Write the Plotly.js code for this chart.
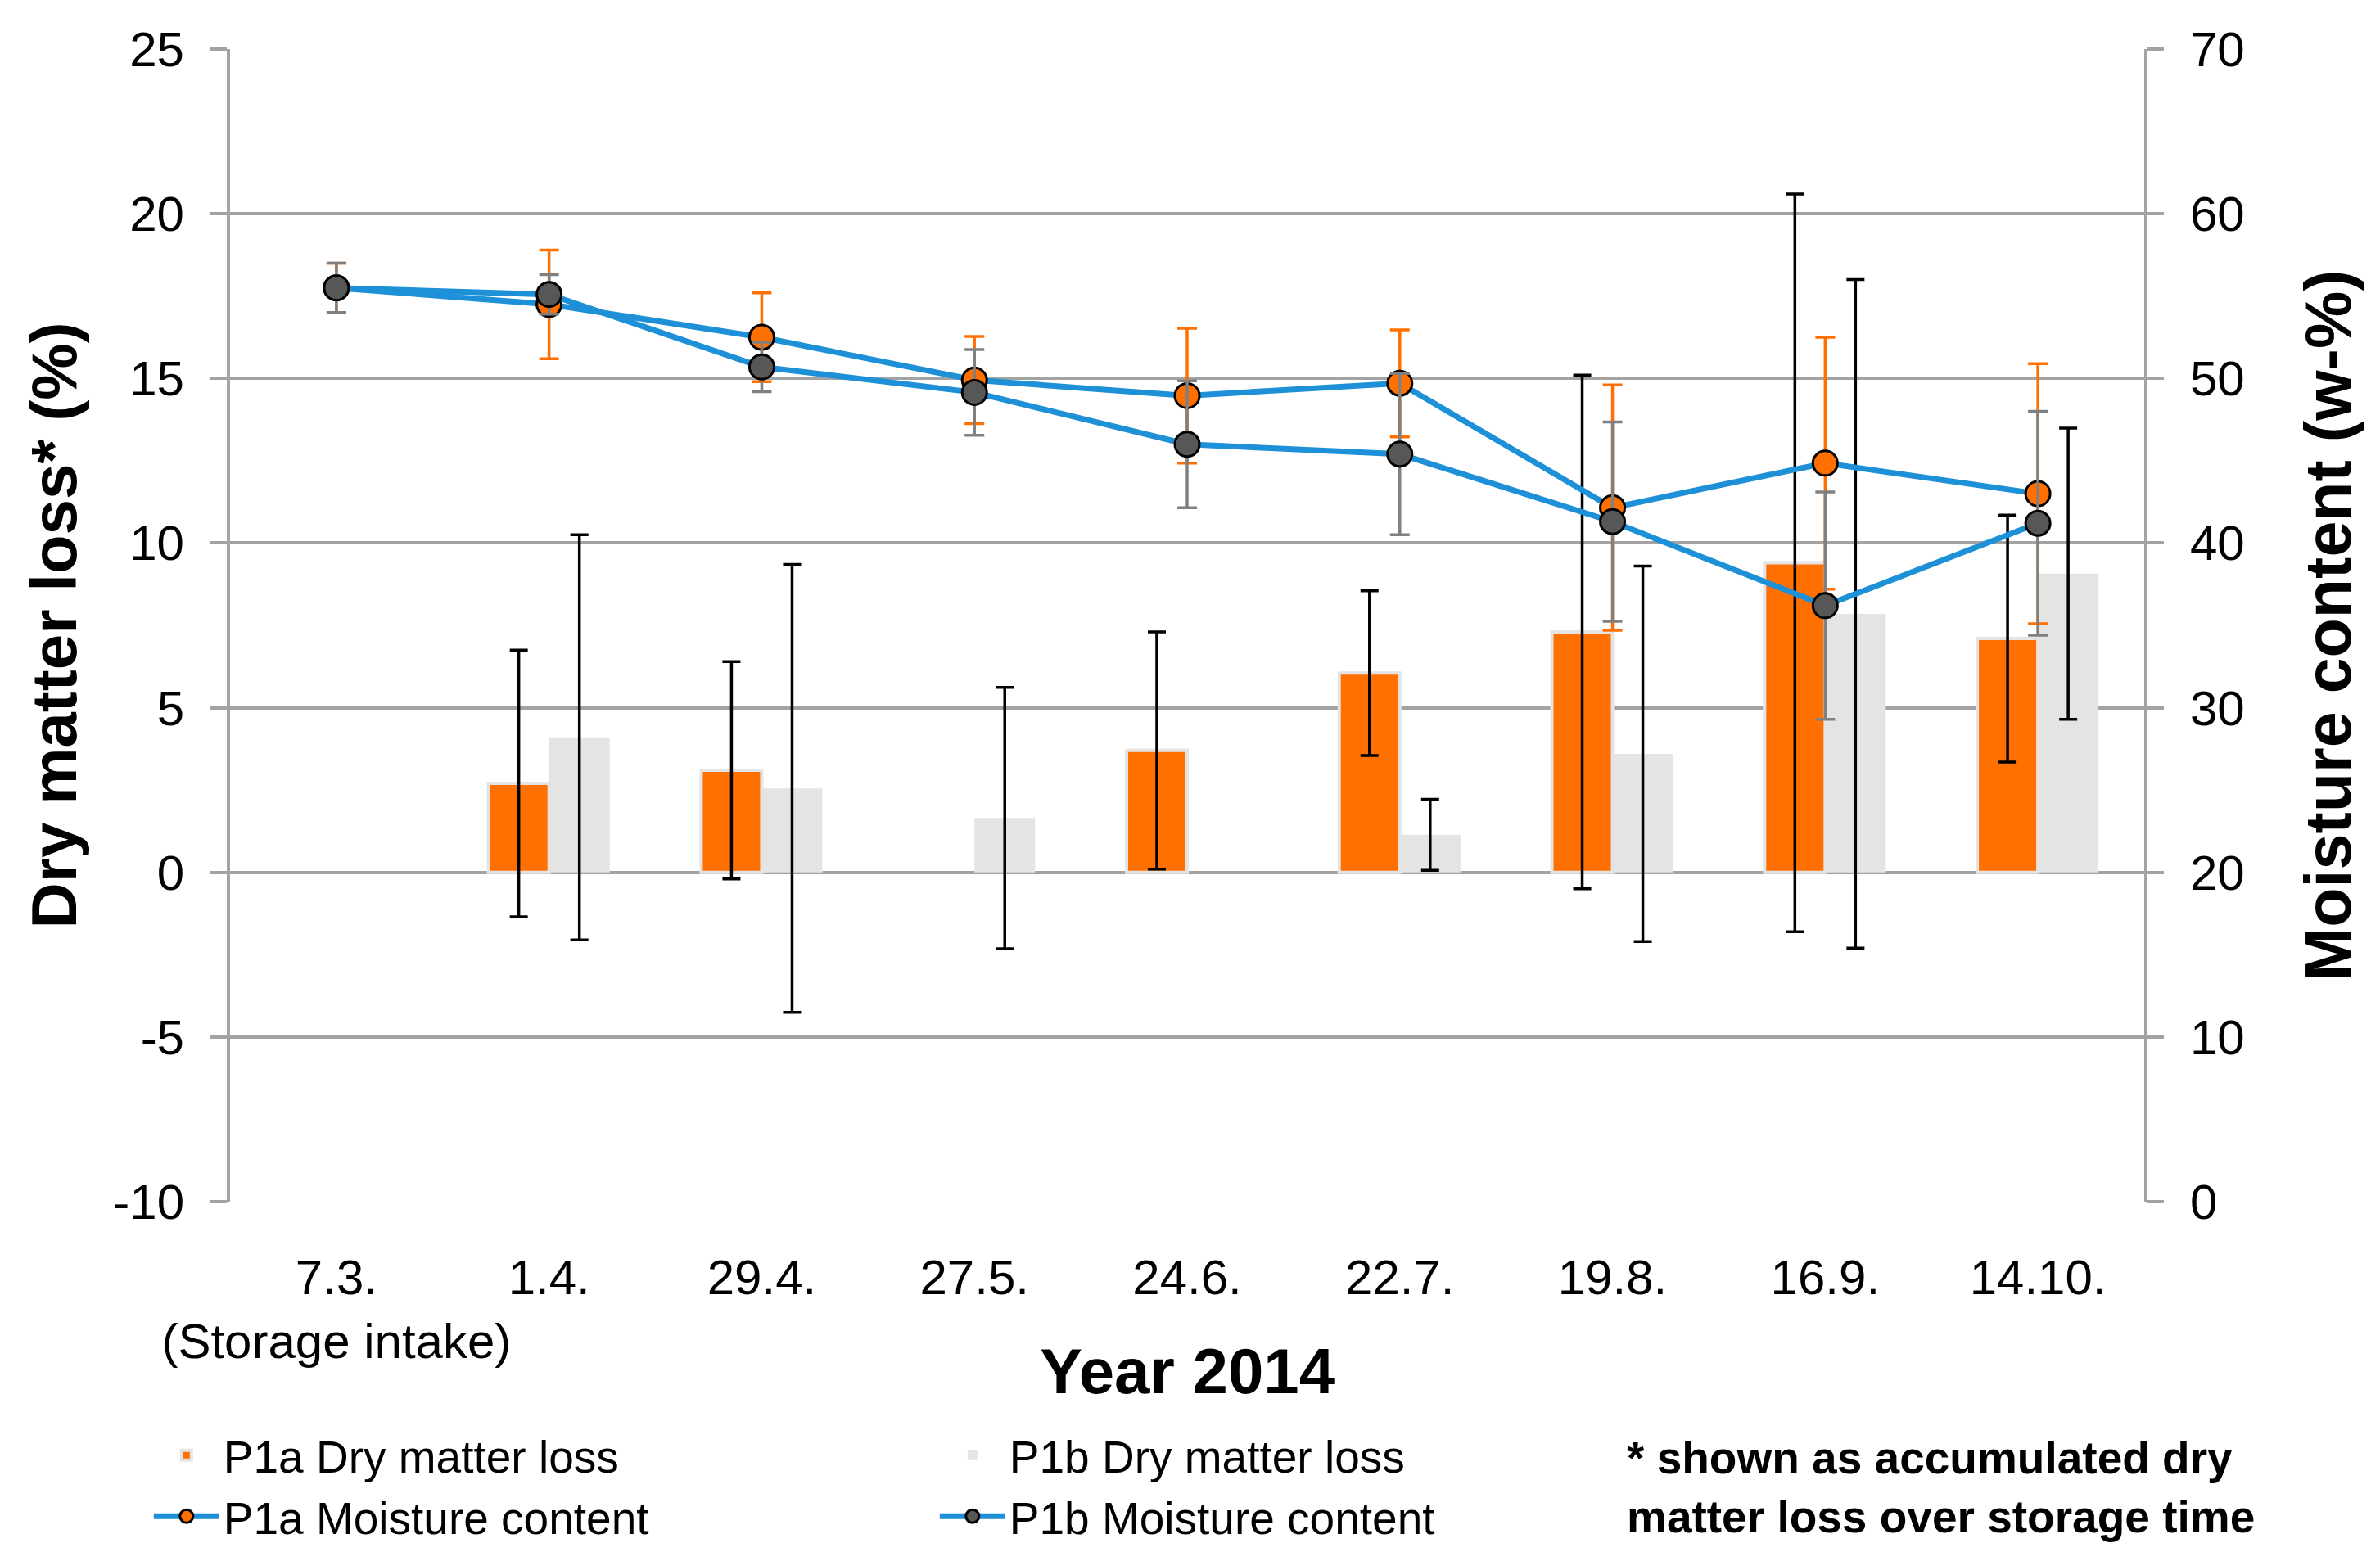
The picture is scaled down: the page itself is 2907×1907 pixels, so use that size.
<!DOCTYPE html>
<html>
<head>
<meta charset="utf-8">
<script src="https://cdn.plot.ly/plotly-3.0.1.min.js"></script>
<style>
html, body { margin: 0; padding: 0; background: #ffffff; }
#chart { width: 2907px; height: 1907px; }
</style>
</head>
<body>
<div id="chart"></div>
<script>
// ---- data ----
const categories = ['7.3.', '1.4.', '29.4.', '27.5.', '24.6.', '22.7.', '19.8.', '16.9.', '14.10.'];
const tickLabels = ['7.3.<br>(Storage intake)', '1.4.', '29.4.', '27.5.', '24.6.', '22.7.', '19.8.', '16.9.', '14.10.'];

const p1aDmLoss    = [null, 2.7, 3.1, null, 3.7, 6.05, 7.3, 9.4, 7.1];
const p1aDmLossErr = [null, 4.05, 3.3, null, 3.6, 2.5, 7.8, 11.2, 3.75];
const p1bDmLoss    = [null, 4.1, 2.55, 1.65, null, 1.14, 3.6, 7.85, 9.07];
const p1bDmLossErr = [null, 6.15, 6.8, 3.97, null, 1.08, 5.7, 10.15, 4.42];

const p1aMoisture    = [55.5, 54.5, 52.5, 49.9, 48.95, 49.7, 42.15, 44.85, 43.0];
const p1aMoistureErr = [1.5, 3.3, 2.7, 2.65, 4.1, 3.25, 7.45, 7.65, 7.9];
const p1bMoisture    = [55.5, 55.1, 50.7, 49.15, 46.0, 45.4, 41.3, 36.2, 41.2];
const p1bMoistureErr = [1.5, 1.2, 1.5, 2.6, 3.85, 4.9, 6.05, 6.9, 6.8];

const leftTicks  = [-10, -5, 0, 5, 10, 15, 20, 25];
const rightTicks = [0, 10, 20, 30, 40, 50, 60, 70];
const leftRange  = [leftTicks[0], leftTicks[leftTicks.length - 1]];
const rightRange = [rightTicks[0], rightTicks[rightTicks.length - 1]];

const xTitle = 'Year 2014';
const leftTitle = 'Dry matter loss* (%)';
const rightTitle = 'Moisture content (w-%)';
const footnote = '* shown as accumulated dry<br>matter loss over storage time';

// ---- styling ----
const FONT = 'Liberation Sans, Arial, sans-serif';
const GRID = '#a3a3a3';
const ORANGE = '#ff7000';
const LIGHTGRAY = '#e4e4e4';
const DARKGRAY = '#575757';
const BLUE = '#1e90d7';

const traces = [
  {
    type: 'bar', name: 'P1a Dry matter loss', x: categories, y: p1aDmLoss,
    marker: { color: ORANGE, line: { color: LIGHTGRAY, width: 4 } },
    error_y: { type: 'data', array: p1aDmLossErr, visible: true, color: '#000000', thickness: 3.5, width: 11 },
    xaxis: 'x', yaxis: 'y'
  },
  {
    type: 'bar', name: 'P1b Dry matter loss', x: categories, y: p1bDmLoss,
    marker: { color: LIGHTGRAY, line: { color: LIGHTGRAY, width: 0 } },
    error_y: { type: 'data', array: p1bDmLossErr, visible: true, color: '#000000', thickness: 3.5, width: 11 },
    xaxis: 'x', yaxis: 'y'
  },
  {
    type: 'scatter', mode: 'lines+markers', name: 'P1a Moisture content', x: categories, y: p1aMoisture,
    line: { color: BLUE, width: 7 },
    marker: { color: ORANGE, size: 30, line: { color: '#000000', width: 3 } },
    error_y: { type: 'data', array: p1aMoistureErr, visible: true, color: ORANGE, thickness: 3.5, width: 12 },
    xaxis: 'x', yaxis: 'y2'
  },
  {
    type: 'scatter', mode: 'lines+markers', name: 'P1b Moisture content', x: categories, y: p1bMoisture,
    line: { color: BLUE, width: 7 },
    marker: { color: DARKGRAY, size: 30, line: { color: '#000000', width: 3 } },
    error_y: { type: 'data', array: p1bMoistureErr, visible: true, color: '#808080', thickness: 3.5, width: 12 },
    xaxis: 'x', yaxis: 'y2'
  }
];

// position (fraction of plot height) of the zero line of the left axis
const zeroPos = (0 - leftRange[0]) / (leftRange[1] - leftRange[0]);
const boundaries = [];
for (let i = 0; i <= categories.length; i++) boundaries.push(i - 0.5);

const layout = {
  width: 2907, height: 1907,
  paper_bgcolor: '#ffffff', plot_bgcolor: '#ffffff',
  margin: { l: 281, r: 288, t: 60, b: 432 },
  font: { family: FONT, color: '#000000', size: 60 },
  barmode: 'group', bargap: 0.43, bargroupgap: 0,
  showlegend: true,
  xaxis: {
    type: 'category', categoryorder: 'array', categoryarray: categories,
    tickmode: 'array', tickvals: categories, ticktext: tickLabels, tickangle: 0,
    range: [-0.5, categories.length - 0.5],
    showgrid: false, zeroline: false, showline: false, ticks: '',
    tickfont: { family: FONT, size: 60, color: '#000' },
    ticklabelstandoff: 52, automargin: false
  },
  xaxis2: {
    overlaying: 'x', anchor: 'free', position: zeroPos, side: 'bottom',
    type: 'linear', range: [-0.5, categories.length - 0.5],
    tickmode: 'array', tickvals: boundaries, showticklabels: false,
    ticks: 'outside', ticklen: 18, tickwidth: 4, tickcolor: GRID,
    showline: true, linecolor: GRID, linewidth: 4,
    showgrid: false, zeroline: false, automargin: false
  },
  yaxis: {
    range: leftRange, tickmode: 'array', tickvals: leftTicks, ticktext: leftTicks.map(String),
    showgrid: true, gridcolor: GRID, gridwidth: 4,
    zeroline: false, showline: true, linecolor: GRID, linewidth: 4,
    ticks: 'outside', ticklen: 20, tickwidth: 4, tickcolor: GRID,
    tickfont: { family: FONT, size: 60, color: '#000' },
    ticklabelstandoff: 20, automargin: false,
    title: { text: leftTitle, font: { family: FONT, size: 78, weight: 'bold', color: '#000' }, standoff: 20 }
  },
  yaxis2: {
    overlaying: 'y', side: 'right', range: rightRange, tickmode: 'array', tickvals: rightTicks, ticktext: rightTicks.map(String),
    showgrid: false, zeroline: false, showline: true, linecolor: GRID, linewidth: 4,
    ticks: 'outside', ticklen: 20, tickwidth: 4, tickcolor: GRID,
    tickfont: { family: FONT, size: 60, color: '#000' },
    ticklabelstandoff: 20, automargin: false,
    title: { text: rightTitle, font: { family: FONT, size: 79, weight: 'bold', color: '#000' }, standoff: 76 }
  },
  legend: {
    orientation: 'h', x: -0.042, xanchor: 'left', y: -0.19, yanchor: 'top',
    font: { family: FONT, size: 55, color: '#000' },
    entrywidth: 865, entrywidthmode: 'pixels', itemwidth: 80,
    traceorder: 'normal', tracegroupgap: 0, bgcolor: 'rgba(0,0,0,0)'
  },
  annotations: [
    {
      // x-axis title, placed just under the two-line category labels
      xref: 'paper', yref: 'paper', x: 0.5, y: -0.147, xanchor: 'center', yanchor: 'middle',
      showarrow: false, text: xTitle,
      font: { family: FONT, size: 78, weight: 'bold', color: '#000' }
    },
    {
      xref: 'paper', yref: 'paper', x: 0.729, y: -0.199, xanchor: 'left', yanchor: 'top',
      align: 'left', showarrow: false, text: footnote,
      font: { family: FONT, size: 55, weight: 'bold', color: '#000' }
    }
  ]
};

Plotly.newPlot('chart', traces, layout, { displayModeBar: false, staticPlot: true });
</script>
</body>
</html>
